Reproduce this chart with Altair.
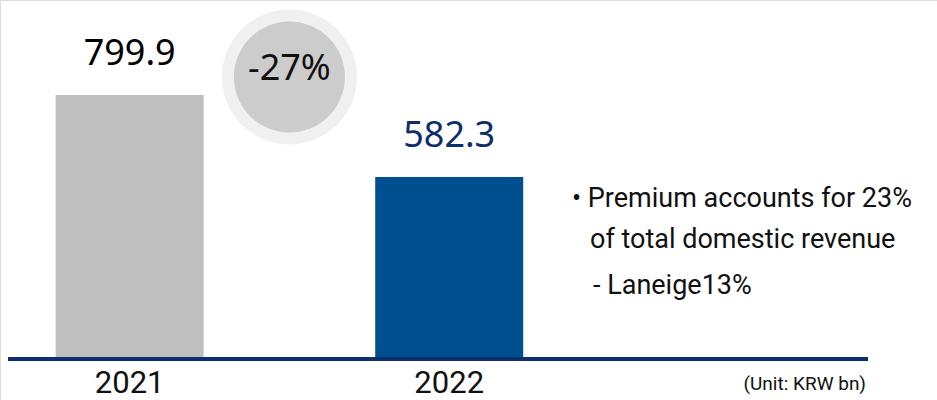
import altair as alt
import pandas as pd

years = [2021, 2022]
year_labels = ["2021", "2022"]
revenue = [799.9, 582.3]
value_labels = ["799.9", "582.3"]
bar_colors = ["#bfbfbf", "#00508f"]
label_colors = ["#000000", "#0d2d6b"]
change_label = "-27%"
note_lines = ["• Premium accounts for 23%", "of total domestic revenue", "-  Laneige13%"]
unit_label = "(Unit: KRW bn)"
base_value = 104.6

df = pd.DataFrame({
    "year": years,
    "year_label": year_labels,
    "revenue": revenue,
    "label": value_labels,
    "bar_color": bar_colors,
    "label_color": label_colors,
    "base": [base_value] * len(years),
})

FONT = "Roboto"
xs = alt.Scale(domain=[2020.6099, 2023.5108], nice=False, zero=False)
ys = alt.Scale(domain=[-9.5, 1052.0], nice=False, zero=False)
X = alt.X("year:Q", scale=xs, axis=None)

bars = alt.Chart(df).mark_bar(size=148).encode(
    x=X,
    y=alt.Y("revenue:Q", scale=ys, axis=None),
    y2="base:Q",
    color=alt.Color("bar_color:N", scale=None),
)

vals = alt.Chart(df).mark_text(font="Noto Sans", fontSize=36, baseline="middle", dy=-41).encode(
    x=X,
    y=alt.Y("revenue:Q", scale=ys, axis=None),
    text="label:N",
    color=alt.Color("label_color:N", scale=None),
)

years_txt = alt.Chart(df).mark_text(font=FONT, fontSize=31, baseline="middle", color="#111111").encode(
    x=X,
    y=alt.value(384),
    text="year_label:N",
)

baseline = alt.Chart(pd.DataFrame({"a": [0]})).mark_rule(color="#0c2f6b", strokeWidth=4).encode(
    x=alt.value(8), x2=alt.value(868), y=alt.value(359)
)

circ_df = pd.DataFrame({"year": [2021.5], "t": [change_label]})
outer = alt.Chart(circ_df).mark_point(shape="circle", filled=True, size=135 * 135, color="#f0f0f0", opacity=1).encode(
    x=X, y=alt.value(77)
)
inner = alt.Chart(circ_df).mark_point(shape="circle", filled=True, size=111 * 111, color="#cccccc", opacity=1).encode(
    x=X, y=alt.value(77)
)
ctext = alt.Chart(circ_df).mark_text(font="Noto Sans", fontSize=36, baseline="middle", color="#111111").encode(
    x=X, y=alt.value(69), text="t:N"
)

notes_df = pd.DataFrame({
    "t": note_lines,
    "px": [572, 590, 593],
    "py": [199, 240, 286],
})
notes = alt.Chart(notes_df).mark_text(font=FONT, fontSize=27, align="left", baseline="middle", color="#111111").encode(
    x=alt.X("px:Q", scale=None, axis=None),
    y=alt.Y("py:Q", scale=None, axis=None),
    text="t:N",
)

unit = alt.Chart(pd.DataFrame({"t": [unit_label]})).mark_text(font=FONT, fontSize=19, align="right", baseline="middle", color="#111111").encode(
    x=alt.value(866), y=alt.value(384), text="t:N"
)

chart = alt.layer(outer, inner, ctext, bars, baseline, vals, years_txt, notes, unit).properties(
    width=937, height=400,
    autosize=alt.AutoSizeParams(type="none"),
    padding=0,
).configure_view(stroke=None).configure(background="white")

chart.save("out.html", embed_options={"renderer": "svg", "actions": False})
